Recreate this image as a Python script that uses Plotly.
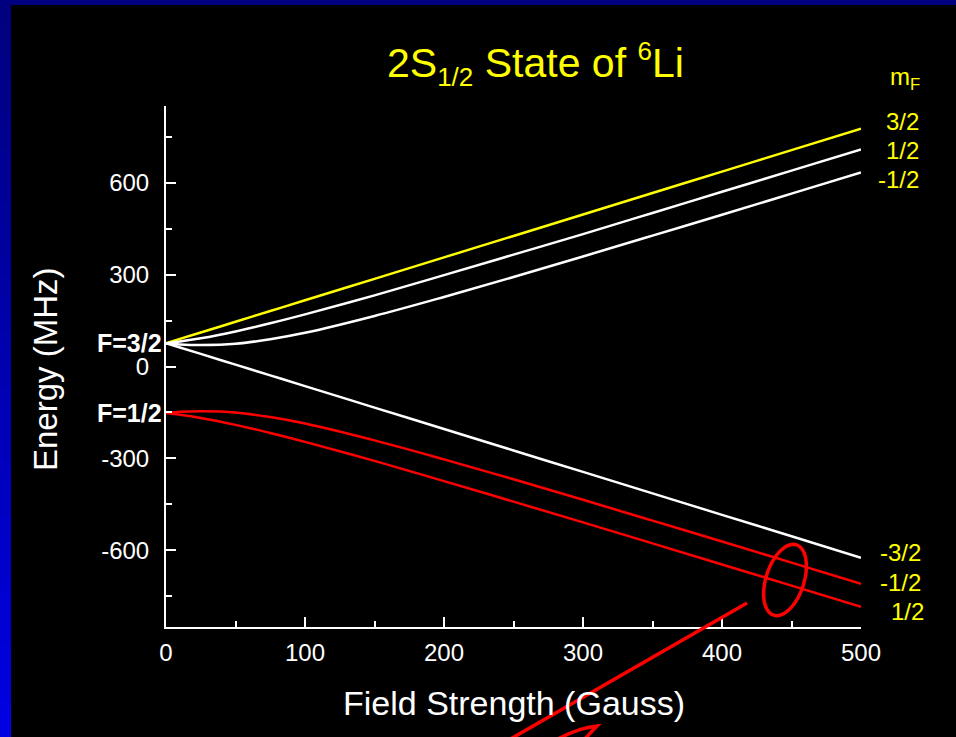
import numpy as np
import plotly.graph_objects as go

# ---- data ----
field_G = [0, 10, 25, 50, 75, 100, 150, 200, 250, 300, 350, 400, 450, 500]
e_up_p32 = [76, 90, 111, 146, 181, 216, 286, 356, 426, 496, 566, 636, 706, 776]
e_up_p12 = [76, 81.5, 92, 114.5, 141, 170, 232, 298, 365, 432, 501, 570, 639, 708]
e_up_m12 = [76, 72, 70, 74, 89, 110, 165, 227, 292, 359, 427, 495, 564, 633]
e_up_m32 = [76, 62, 41, 6, -29, -64, -134, -204, -274, -344, -414, -484, -554, -624]
e_lo_m12 = [-152, -148, -146, -150, -165, -186, -241, -303, -368, -435, -503, -571, -640, -709]
e_lo_p12 = [-152, -157.5, -168, -190.5, -217, -246, -308, -374, -441, -508.5, -577, -646, -715, -784]

x_ticks = [0, 100, 200, 300, 400, 500]
y_ticks = [-600, -300, 0, 300, 600]
mf_labels_top = ["3/2", "1/2", "-1/2"]
mf_labels_bot = ["-3/2", "-1/2", "1/2"]

W, H = 956, 737
L, R, T, B = 166, 95, 106, 110
PW, PH = W - L - R, H - T - B


def px(x):
    return (x - L) / PW


def py(y):
    return (H - B - y) / PH


fig = go.Figure()
series = [
    (e_up_p32, "#FFFF00"), (e_up_p12, "white"), (e_up_m12, "white"),
    (e_up_m32, "white"), (e_lo_m12, "#FF0000"), (e_lo_p12, "#FF0000"),
]
for ys, col in series:
    fig.add_trace(go.Scatter(x=field_G, y=ys, mode="lines",
                             line=dict(color=col, width=2.5, shape="spline"),
                             showlegend=False, hoverinfo="skip"))

shapes = []
# blue frame (top strip + left gradient strip)
shapes.append(dict(type="rect", xref="paper", yref="paper", x0=px(0), x1=px(W),
                   y0=py(5), y1=py(-2), fillcolor="#000080", line=dict(width=0), layer="below"))
nb = 40
for i in range(nb):
    y0p = i * H / nb
    y1p = (i + 1) * H / nb + 1
    b = int(125 + (228 - 125) * (i + 0.5) / nb)
    shapes.append(dict(type="rect", xref="paper", yref="paper", x0=px(-2), x1=px(11),
                       y0=py(y1p), y1=py(y0p), fillcolor=f"rgb(0,0,{b})",
                       line=dict(width=0), layer="below"))

# red ellipse annotation
cx, cy, a, bb, th = 785, 580, 37, 19, np.deg2rad(18)
t = np.linspace(0, 2 * np.pi, 73)
ex = cx + a * np.cos(t) * np.sin(th) + bb * np.sin(t) * np.cos(th)
ey = cy - a * np.cos(t) * np.cos(th) + bb * np.sin(t) * np.sin(th)
path = "M " + " L ".join(f"{px(u):.5f},{py(v):.5f}" for u, v in zip(ex, ey)) + " Z"
shapes.append(dict(type="path", xref="paper", yref="paper", path=path,
                   line=dict(color="#FF0000", width=3.5)))
# red pointer line
shapes.append(dict(type="line", xref="paper", yref="paper",
                   x0=px(747), y0=py(603), x1=px(507), y1=py(741),
                   line=dict(color="#FF0000", width=3.5)))
hook = (f"M {px(556):.5f},{py(740):.5f} Q {px(578):.5f},{py(728):.5f} {px(597):.5f},{py(726):.5f} "
        f"Q {px(591):.5f},{py(732):.5f} {px(584):.5f},{py(740):.5f}")
shapes.append(dict(type="path", xref="paper", yref="paper", path=hook,
                   line=dict(color="#FF0000", width=3.5)))

FONT = "Liberation Sans, Arial, sans-serif"
ann = []
ann.append(dict(text="2S<sub><span style='font-size:26px'>1/2</span></sub> State of "
                     "<sup><span style='font-size:26px'>6</span></sup>Li",
                x=px(385), y=py(64),
                xref="paper", yref="paper", xanchor="left", yanchor="middle", showarrow=False,
                font=dict(family=FONT, size=41, color="#FFFF00")))
ann.append(dict(text="Field Strength (Gauss)", x=px(514), y=py(703), xref="paper", yref="paper",
                xanchor="center", yanchor="middle", showarrow=False,
                font=dict(family=FONT, size=34, color="white")))
ann.append(dict(text="Energy (MHz)", x=px(45), y=py(369), xref="paper", yref="paper",
                xanchor="center", yanchor="middle", showarrow=False, textangle=-90,
                font=dict(family=FONT, size=33, color="white")))
ann.append(dict(text="<b>F=3/2</b>", x=px(164), y=py(343), xref="paper", yref="paper",
                xanchor="right", yanchor="middle", showarrow=False,
                font=dict(family=FONT, size=25, color="white")))
ann.append(dict(text="<b>F=1/2</b>", x=px(164), y=py(413), xref="paper", yref="paper",
                xanchor="right", yanchor="middle", showarrow=False,
                font=dict(family=FONT, size=25, color="white")))
ann.append(dict(text="m<sub>F</sub>", x=px(888), y=py(78), xref="paper", yref="paper",
                xanchor="left", yanchor="middle", showarrow=False,
                font=dict(family=FONT, size=24, color="#FFFF00")))
for lab, (xr, yc) in zip(mf_labels_top, [(921, 121), (921, 150), (921, 179)]):
    ann.append(dict(text=lab, x=px(xr), y=py(yc), xref="paper", yref="paper",
                    xanchor="right", yanchor="middle", showarrow=False,
                    font=dict(family=FONT, size=24, color="#FFFF00")))
for lab, (xr, yc) in zip(mf_labels_bot, [(923, 552), (923, 582), (926, 611)]):
    ann.append(dict(text=lab, x=px(xr), y=py(yc), xref="paper", yref="paper",
                    xanchor="right", yanchor="middle", showarrow=False,
                    font=dict(family=FONT, size=24, color="#FFFF00")))

axis_common = dict(showgrid=False, zeroline=False, showline=True, linecolor="white", linewidth=2,
                   ticks="inside", ticklen=10, tickwidth=2, tickcolor="white",
                   tickfont=dict(family=FONT, size=24, color="white"), mirror=False)
fig.update_layout(
    width=W, height=H, autosize=False,
    margin=dict(l=L, r=R, t=T, b=B, pad=0),
    paper_bgcolor="black", plot_bgcolor="black",
    shapes=shapes, annotations=ann, showlegend=False,
    xaxis=dict(range=[0, 500], tickvals=x_ticks, ticktext=[str(v) for v in x_ticks],
               minor=dict(ticks="inside", ticklen=6, tickwidth=2, tickcolor="white", dtick=50, tick0=0),
               ticklabelstandoff=3, **axis_common),
    yaxis=dict(range=[-850, 850], tickvals=y_ticks, ticktext=[str(v) for v in y_ticks],
               minor=dict(ticks="inside", ticklen=6, tickwidth=2, tickcolor="white", dtick=150, tick0=0),
               ticklabelstandoff=10, **axis_common),
)
fig.write_html("out.html", config={"displayModeBar": False},
               post_script="document.body.style.margin='0';document.body.style.overflow='hidden';"
                           "document.body.style.background='black';")
